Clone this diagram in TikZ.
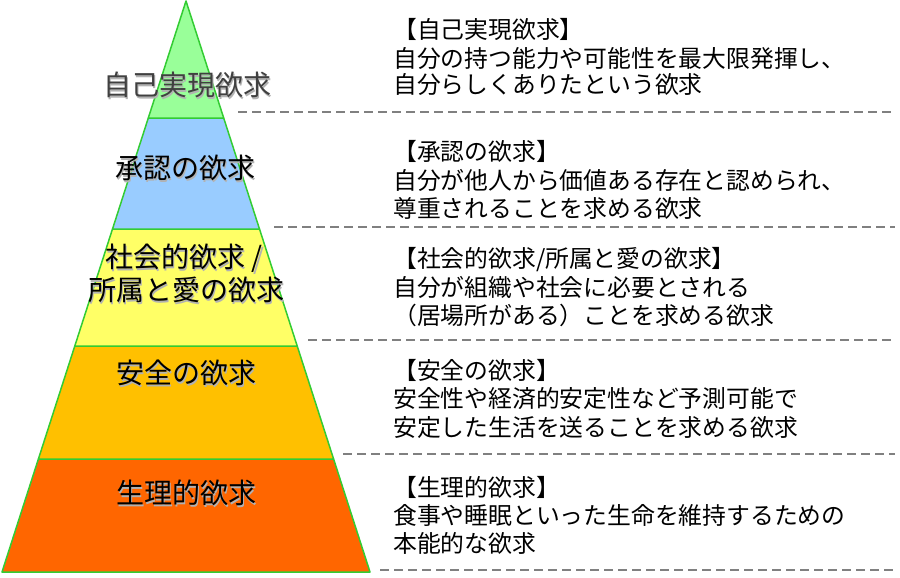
\documentclass[tikz,border=0pt]{standalone}
\usepackage{fontspec}
\setmainfont{Noto Sans CJK JP}
\definecolor{lgreen}{HTML}{99FF99}
\definecolor{lblue}{HTML}{99CCFF}
\definecolor{lyellow}{HTML}{FFFF66}
\definecolor{lorange}{HTML}{FFC000}
\definecolor{dorange}{HTML}{FF6600}
\definecolor{edgegreen}{HTML}{33CC33}
\definecolor{dashgray}{HTML}{808080}
\definecolor{topgray}{HTML}{404040}
\tikzset{
  layer/.style={draw=edgegreen, line width=1.5pt, line join=round},
  sep/.style={draw=dashgray, line width=1.3pt, dash pattern=on 9pt off 5pt},
  desc/.style={anchor=base west, inner sep=0pt, font=\fontsize{23.8}{28}\selectfont},
  plabel/.style={anchor=base, inner sep=0pt, font=\fontsize{28}{32}\selectfont},
  pshadow/.style={plabel, text=black!30, xshift=1.6pt, yshift=-1.6pt}
}
\begin{document}
\begin{tikzpicture}[x=1pt,y=-1pt]
\useasboundingbox (0,0) rectangle (900,578);
% pyramid corners
\coordinate (apex) at (186,1);
\coordinate (bl) at (2,572);
\coordinate (br) at (370,572);
% layers
\filldraw[layer, fill=dorange] (38.4,459) -- (333.6,459) -- (br) -- (bl) -- cycle;
\filldraw[layer, fill=lorange] (74.8,346) -- (297.2,346) -- (333.6,459) -- (38.4,459) -- cycle;
\filldraw[layer, fill=lyellow] (112.5,229) -- (259.5,229) -- (297.2,346) -- (74.8,346) -- cycle;
\filldraw[layer, fill=lblue] (148.3,118) -- (223.7,118) -- (259.5,229) -- (112.5,229) -- cycle;
\filldraw[layer, fill=lgreen] (apex) -- (223.7,118) -- (148.3,118) -- cycle;
% pyramid labels (with soft drop shadow)
\node[pshadow] at (187,95.5) {自己実現欲求};
\node[plabel, text=topgray] (l1) at (187,95.5) {自己実現欲求};
\node[pshadow] at (185,178.5) {承認の欲求};
\node[plabel] (l2) at (185,178.5) {承認の欲求};
\node[pshadow] at (184,267.5) {社会的欲求 /};
\node[plabel] (l3a) at (184,267.5) {社会的欲求 /};
\node[pshadow] at (186,300.5) {所属と愛の欲求};
\node[plabel] (l3b) at (186,300.5) {所属と愛の欲求};
\node[pshadow] at (186,383.5) {安全の欲求};
\node[plabel] (l4) at (186,383.5) {安全の欲求};
\node[pshadow] at (186,503.5) {生理的欲求};
\node[plabel] (l5) at (186,503.5) {生理的欲求};
% dashed separators
\coordinate (s1a) at (238,112); \coordinate (s1b) at (895,112);
\coordinate (s2a) at (274,227); \coordinate (s2b) at (895,227);
\coordinate (s3a) at (308,340); \coordinate (s3b) at (895,340);
\coordinate (s4a) at (343,454); \coordinate (s4b) at (895,454);
\coordinate (s5a) at (380,570); \coordinate (s5b) at (895,570);
\draw[sep] (s1a) -- (s1b);
\draw[sep] (s2a) -- (s2b);
\draw[sep] (s3a) -- (s3b);
\draw[sep] (s4a) -- (s4b);
\draw[sep] (s5a) -- (s5b);
% descriptions
\node[desc] (d1a) at (393,39) {【自己実現欲求】};
\node[desc] (d1b) at (393,67) {自分の持つ能力や可能性を最大限発揮し、};
\node[desc] (d1c) at (393,94) {自分らしくありたという欲求};
\node[desc] (d2a) at (393,160) {【承認の欲求】};
\node[desc] (d2b) at (393,189.5) {自分が他人から価値ある存在と認められ、};
\node[desc] (d2c) at (393,217) {尊重されることを求める欲求};
\node[desc] (d3a) at (393,267.5) {【社会的欲求/所属と愛の欲求】};
\node[desc] (d3b) at (393,296) {自分が組織や社会に必要とされる};
\node[desc] (d3c) at (393,324) {（居場所がある）ことを求める欲求};
\node[desc] (d4a) at (393,379) {【安全の欲求】};
\node[desc] (d4b) at (393,407) {安全性や経済的安定性など予測可能で};
\node[desc] (d4c) at (393,436) {安定した生活を送ることを求める欲求};
\node[desc] (d5a) at (393,496) {【生理的欲求】};
\node[desc] (d5b) at (393,524) {食事や睡眠といった生命を維持するための};
\node[desc] (d5c) at (393,552) {本能的な欲求};
\end{tikzpicture}
\end{document}
